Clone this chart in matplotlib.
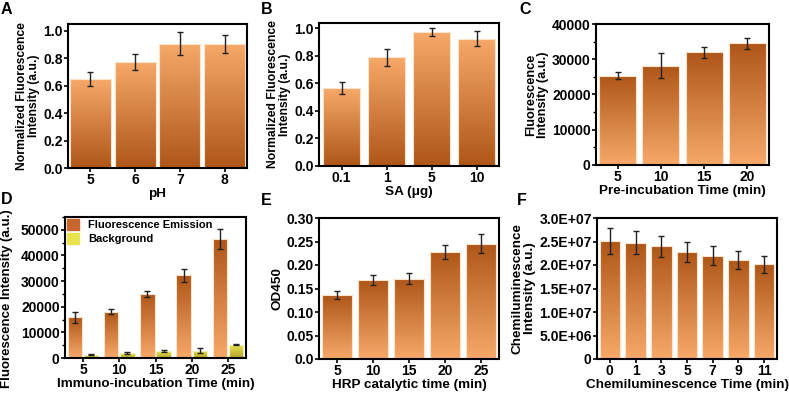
import numpy as np
import matplotlib.pyplot as plt
from matplotlib.colors import LinearSegmentedColormap
from matplotlib.ticker import AutoMinorLocator
from matplotlib.patches import Patch

plt.rcParams['font.family'] = ['Liberation Sans', 'DejaVu Sans']
plt.rcParams['font.weight'] = 'bold'
plt.rcParams['axes.labelweight'] = 'bold'
plt.rcParams['font.size'] = 10

# Panel A - pH
ph_labels = ['5', '6', '7', '8']
ph_vals = [0.651, 0.773, 0.907, 0.905]
ph_err = [0.05, 0.055, 0.082, 0.066]

# Panel B - SA amount
sa_labels = ['0.1', '1', '5', '10']
sa_vals = [0.567, 0.791, 0.971, 0.927]
sa_err = [0.041, 0.061, 0.029, 0.054]

# Panel C - pre-incubation time
pre_labels = ['5', '10', '15', '20']
pre_vals = [25340, 28180, 31960, 34520]
pre_err = [950, 3600, 1560, 1550]

# Panel D - immuno-incubation time
imm_labels = ['5', '10', '15', '20', '25']
emis_vals = [15800, 18000, 25000, 32200, 46300]
emis_err = [2000, 1000, 1100, 2500, 3900]
bg_vals = [1290, 1930, 2700, 2900, 5100]
bg_err = [250, 400, 400, 1000, 200]

# Panel E - HRP catalytic time
hrp_labels = ['5', '10', '15', '20', '25']
hrp_vals = [0.136, 0.168, 0.171, 0.228, 0.245]
hrp_err = [0.009, 0.01, 0.011, 0.015, 0.02]

# Panel F - chemiluminescence time
cl_labels = ['0', '1', '3', '5', '7', '9', '11']
cl_vals = [2.51e7, 2.475e7, 2.40e7, 2.28e7, 2.20e7, 2.11e7, 2.02e7]
cl_err = [0.27e7, 0.24e7, 0.22e7, 0.21e7, 0.20e7, 0.19e7, 0.18e7]

LIGHT = '#F7A96A'
DARK = '#AE5618'
YEL_TOP = '#ECE657'
YEL_BOT = '#B3A427'

W, H = 789, 398
fig = plt.figure(figsize=(W / 100, H / 100), dpi=100)


def make_ax(l, t, r, b):
    return fig.add_axes([l / W, 1 - b / H, (r - l) / W, (b - t) / H])


def gradient_bars(ax, bars, top, bottom):
    cmap = LinearSegmentedColormap.from_list('g', [bottom, top])
    grad = np.linspace(0, 1, 256).reshape(-1, 1)
    for bar in bars:
        x0, y0 = bar.get_x(), bar.get_y()
        w, h = bar.get_width(), bar.get_height()
        im = ax.imshow(grad, cmap=cmap, origin='lower', aspect='auto',
                       extent=[x0, x0 + w, y0, y0 + h], zorder=1,
                       interpolation='bicubic')
        im.set_clip_path(bar)
        bar.set_facecolor('none')


def style(ax, xlabels, ylim, yticks, xlabel, ylabel, ylabel_size=9.7, minor=False):
    ax.set_ylim(*ylim)
    ax.set_yticks(yticks)
    ax.set_xticks(range(len(xlabels)))
    ax.set_xticklabels(xlabels)
    ax.set_xlim(-0.5, len(xlabels) - 0.5)
    ax.set_xlabel(xlabel, labelpad=0.5, fontsize=9.7)
    ax.set_ylabel(ylabel, labelpad=2, fontsize=ylabel_size, linespacing=1.05)
    if minor:
        ax.yaxis.set_minor_locator(AutoMinorLocator(2))
    ax.tick_params(direction='out', width=1.2, length=3, pad=0.8)
    ax.tick_params(which='minor', direction='out', width=1.0, length=2)
    for s in ax.spines.values():
        s.set_linewidth(1.5)


def simple_panel(ax, labels, vals, errs, width, top, bottom):
    x = np.arange(len(labels))
    bars = ax.bar(x, vals, width=width, edgecolor='#FBE3CC', linewidth=0.8, zorder=2)
    gradient_bars(ax, bars, top, bottom)
    ax.errorbar(x, vals, yerr=errs, fmt='none', ecolor='#222222',
                elinewidth=1.0, capsize=2.0, capthick=1.0, zorder=3)


# A
axA = make_ax(68, 24, 247, 168)
simple_panel(axA, ph_labels, ph_vals, ph_err, 0.92, LIGHT, DARK)
style(axA, ph_labels, (0, 1.05), [0, 0.2, 0.4, 0.6, 0.8, 1.0], 'pH',
      'Normalized Fluorescence\nIntensity (a.u.)', ylabel_size=8.7)
axA.set_yticklabels(['0.0', '0.2', '0.4', '0.6', '0.8', '1.0'])

# B
axB = make_ax(319, 23, 499, 166)
simple_panel(axB, sa_labels, sa_vals, sa_err, 0.83, LIGHT, DARK)
style(axB, sa_labels, (0, 1.04), [0, 0.2, 0.4, 0.6, 0.8, 1.0], 'SA (μg)',
      'Normalized Fluorescence\nIntensity (a.u.)', ylabel_size=8.7)
axB.set_yticklabels(['0.0', '0.2', '0.4', '0.6', '0.8', '1.0'])

# C
axC = make_ax(596, 24, 769, 165)
simple_panel(axC, pre_labels, pre_vals, pre_err, 0.85, DARK, LIGHT)
style(axC, pre_labels, (0, 40000), [0, 10000, 20000, 30000, 40000],
      'Pre-incubation Time (min)', 'Fluorescence\nIntensity (a.u.)',
      ylabel_size=9.2, minor=True)

# D
axD = make_ax(65, 217, 246, 358)
xd = np.arange(len(imm_labels))
bw = 0.4
off = bw / 2 + 0.025
b1 = axD.bar(xd - off, emis_vals, width=bw, edgecolor='#FBE3CC',
             linewidth=0.8, zorder=2)
gradient_bars(axD, b1, DARK, LIGHT)
b2 = axD.bar(xd + off, bg_vals, width=bw, edgecolor='#F3F0B8',
             linewidth=0.8, zorder=2)
gradient_bars(axD, b2, YEL_TOP, YEL_BOT)
axD.errorbar(xd - off, emis_vals, yerr=emis_err, fmt='none', ecolor='#222222',
             elinewidth=1.0, capsize=2.0, capthick=1.0, zorder=3)
axD.errorbar(xd + off, bg_vals, yerr=bg_err, fmt='none', ecolor='#222222',
             elinewidth=1.0, capsize=2.0, capthick=1.0, zorder=3)
style(axD, imm_labels, (0, 55000), [0, 10000, 20000, 30000, 40000, 50000],
      'Immuno-incubation Time (min)', 'Fluorescence Intensity (a.u.)',
      ylabel_size=9.5, minor=True)
axD.yaxis.set_label_coords(-0.29, 0.42)
axD.legend([Patch(color='#C8652C'), Patch(color='#E8E24C')],
           ['Fluorescence Emission', 'Background'], loc='upper left',
           frameon=False, fontsize=8, handlelength=1.1, handleheight=1.25,
           borderaxespad=0.05, borderpad=0.1, labelspacing=0.2,
           handletextpad=0.8)

# E
axE = make_ax(319, 218, 499, 359)
simple_panel(axE, hrp_labels, hrp_vals, hrp_err, 0.85, DARK, LIGHT)
style(axE, hrp_labels, (0, 0.30), [0, 0.05, 0.10, 0.15, 0.20, 0.25, 0.30],
      'HRP catalytic time (min)', 'OD450')
axE.set_yticklabels(['0.0', '0.05', '0.10', '0.15', '0.20', '0.25', '0.30'])

# F
axF = make_ax(597, 218, 777, 359)
simple_panel(axF, cl_labels, cl_vals, cl_err, 0.8, DARK, LIGHT)
style(axF, cl_labels, (0, 3.0e7), [0, 5e6, 1e7, 1.5e7, 2e7, 2.5e7, 3e7],
      'Chemiluminescence Time (min)', 'Chemiluminescence\nIntensity (a.u.)')
axF.set_yticklabels(['0', '5.0E+06', '1.0E+07', '1.5E+07', '2.0E+07', '2.5E+07', '3.0E+07'])

# panel letters
for letter, (px, py) in zip('ABCDEF', [(1, 2), (261, 2), (519, 2),
                                       (1, 192), (261, 193), (517, 193)]):
    fig.text(px / W, 1 - py / H, letter, fontsize=11.5, fontweight='bold',
             va='top', ha='left')

fig.savefig('out.png', dpi=100)
